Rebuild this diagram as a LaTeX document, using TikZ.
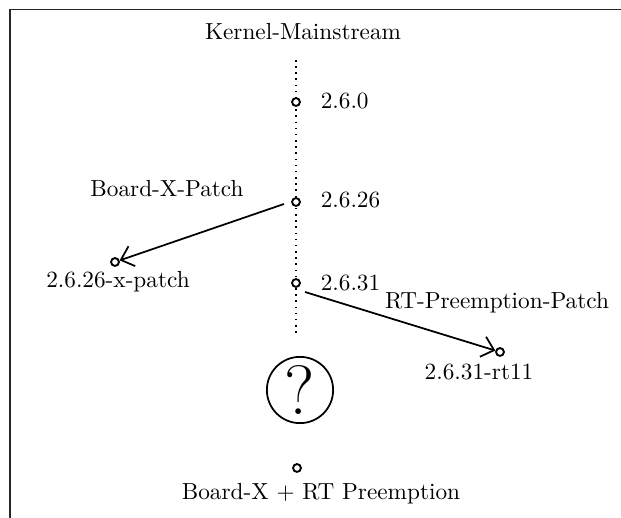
\documentclass[tikz,border=0pt]{standalone}
\usetikzlibrary{arrows.meta}
\begin{document}
\begin{tikzpicture}[x=0.43pt,y=-0.43pt,
  vpoint/.style={circle,draw,line width=0.8pt,minimum size=3.4pt,inner sep=0pt},
  lbl/.style={font=\normalsize,inner sep=1pt},
  patch/.style={line width=0.75pt,-{Straight Barb[length=5pt,width=9pt,line width=0.75pt]}},
  mainline/.style={dotted,line width=0.65pt}]
\useasboundingbox (0,0) rectangle (621,518);
% frame edges
\draw[line width=0.8pt,draw=black!85] (10,518) -- (10,9.5) -- (621,9.5);
% mainline
\node[lbl] (title) at (303,32) {Kernel-Mainstream};
\coordinate (top) at (296,60);
\coordinate (bot) at (296,334);
\draw[mainline] (top) -- (bot);
\node[vpoint,fill=white] (v0) at (296,102) {};
\node[vpoint,fill=white] (v26) at (296,202) {};
\node[vpoint,fill=white] (v31) at (296,283) {};
\node[lbl,anchor=west] at (318,101) {2.6.0};
\node[lbl,anchor=west] at (318,200) {2.6.26};
\node[lbl,anchor=west] at (318,283) {2.6.31};
% board patch
\node[vpoint] (xp) at (115,262) {};
\node[lbl] at (118,282) {2.6.26-x-patch};
\node[lbl] at (167,189) {Board-X-Patch};
\draw[patch] (v26) ++(-12,2) -- (xp);
% rt patch
\node[vpoint] (rt) at (500,352) {};
\node[lbl] at (479,372) {2.6.31-rt11};
\node[lbl] at (497,303) {RT-Preemption-Patch};
\draw[patch] (v31) ++(9,9) -- (rt);
% open question
\node[circle,draw,line width=0.75pt,minimum size=28.5pt,inner sep=0pt,font=\fontsize{30}{30}\selectfont] (q) at (300,390) {?};
\node[vpoint] (res) at (297,468) {};
\node[lbl] at (321,494) {Board-X + RT Preemption};
\end{tikzpicture}
\end{document}
